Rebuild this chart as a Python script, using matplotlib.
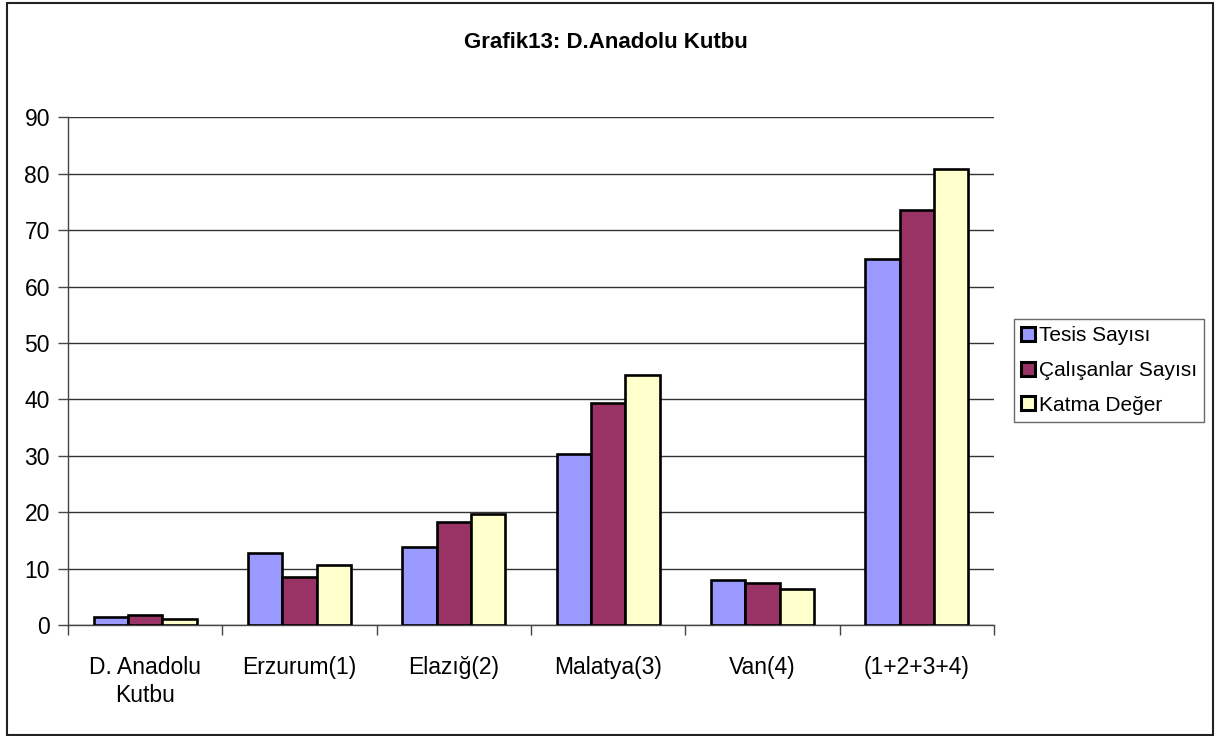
import matplotlib.pyplot as plt
import numpy as np
from matplotlib.patches import Rectangle

plt.rcParams['font.family'] = ['Liberation Sans', 'DejaVu Sans']

# Veriler
categories = ["D. Anadolu\nKutbu", "Erzurum(1)", "Elazığ(2)", "Malatya(3)", "Van(4)", "(1+2+3+4)"]
tesis = [1.5, 12.7, 13.9, 30.3, 7.9, 64.9]
calisanlar = [1.8, 8.5, 18.3, 39.4, 7.5, 73.6]
katma = [1.0, 10.7, 19.7, 44.4, 6.3, 80.9]

series = [("Tesis Sayısı", tesis, "#9999FF"),
          ("Çalışanlar Sayısı", calisanlar, "#993366"),
          ("Katma Değer", katma, "#FFFFCC")]

W, H = 1216, 736
fig = plt.figure(figsize=(W / 100, H / 100), dpi=100)
ax = fig.add_axes([68 / W, 1 - 625 / H, (994 - 68) / W, (625 - 117.3) / H])

x = np.arange(len(categories))
bw = 0.222
for i, (name, vals, col) in enumerate(series):
    ax.bar(x + (i - 1) * bw, vals, bw, color=col, edgecolor="black", linewidth=1.9,
           label=name, zorder=3)

ax.set_xlim(-0.5, len(categories) - 0.5)
ax.set_ylim(0, 90)
ax.set_yticks(range(0, 91, 10))
ax.yaxis.grid(True, color="#333333", linewidth=1.0, zorder=0)

ax.set_xticks(x)
ax.set_xticklabels(categories, fontsize=16.5, linespacing=1.3)
ax.set_xticks(np.arange(-0.5, len(categories), 1), minor=True)
ax.tick_params(axis="x", which="major", length=0, pad=22)
ax.tick_params(axis="x", which="minor", length=7, color="#444444", width=1)
ax.tick_params(axis="y", length=7, color="#444444", width=1, labelsize=16.5, pad=6)

for s in ["top", "right"]:
    ax.spines[s].set_visible(False)
for s in ["left", "bottom"]:
    ax.spines[s].set_color("#444444")
    ax.spines[s].set_linewidth(1.0)

fig.text(606 / W, 1 - 42 / H, "Grafik13: D.Anadolu Kutbu", ha="center", va="center",
         fontsize=16, fontweight="bold")

leg = fig.legend(loc="upper left", bbox_to_anchor=(1014 / W, 1 - 319 / H),
                 bbox_transform=fig.transFigure, fontsize=15, frameon=True,
                 fancybox=False, borderaxespad=0, handlelength=0.65, handleheight=0.65,
                 handletextpad=0.2, labelspacing=0.75, borderpad=0.35)
leg.get_frame().set_edgecolor("#444444")
leg.get_frame().set_linewidth(1.0)
for p in leg.get_patches():
    p.set_linewidth(2.2)

# Dış çerçeve
fig.patches.append(Rectangle((7 / W, 1 - 735 / H), (1213 - 7) / W, (735 - 3) / H,
                             transform=fig.transFigure, fill=False,
                             edgecolor="#222222", linewidth=1.5))

fig.savefig("out.png", dpi=100)
